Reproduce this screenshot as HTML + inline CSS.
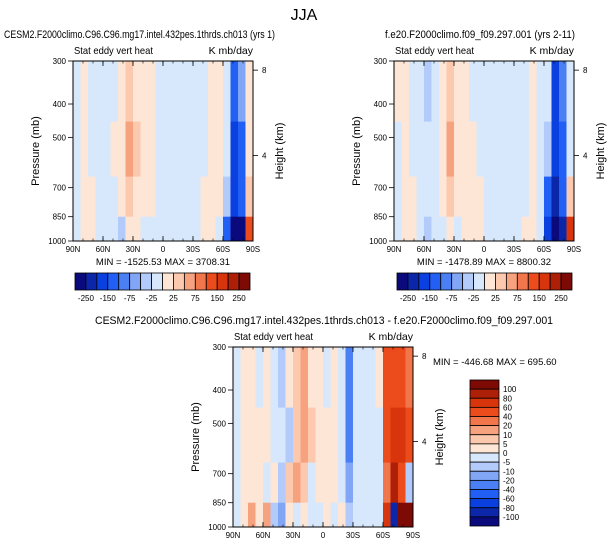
<!DOCTYPE html>
<html><head><meta charset="utf-8">
<style>
html,body{margin:0;padding:0;background:#fff;}
svg{display:block;font-family:"Liberation Sans",Arial,sans-serif;}
</style></head>
<body>
<svg id="fig" width="608" height="547" viewBox="0 0 608 547" xmlns="http://www.w3.org/2000/svg">
<text x="304" y="20" font-size="16" text-anchor="middle">JJA</text>
</svg>
<script>
// ---- data ----
const latLabels = ["90N","60N","30N","0","30S","60S","90S"];
const pressureTicks = [300,400,500,700,850,1000];
const heightTicks = [8,4];
const pressureEdges = [300,450,650,850,1000];
const topLevels = [-250,-200,-150,-100,-75,-50,-25,0,25,50,75,100,150,200,250];
const topLevelLabels = ["-250","-150","-75","-25","25","75","150","250"];
const diffLevels = [-100,-80,-60,-40,-20,-10,-5,0,5,10,20,40,60,80,100];
const colors = ["#0a0a7d","#0b26a8","#0a3fe0","#2260f5","#4b80f5","#82a6f6","#b3cbfa","#d7e8fd","#fde6d6","#fcc9ae","#f7a27e","#f2764b","#ec4c1c","#d9350c","#ad1f06","#7d0a05"];
const modelA = [
[-10,-10,-10,-10],[10,10,10,10],[-10,-10,10,10],[-10,-10,-10,-10],[-10,-10,-10,-10],[-10,10,-10,-10],
[10,10,10,-40],[40,60,40,10],[10,40,10,10],[10,10,10,-10],[10,10,10,-10],[-10,-10,-10,-10],
[-10,-10,-10,-10],[-10,-10,-10,-10],[-10,-10,-10,-10],[-10,-10,-10,-10],[-10,-10,-10,-10],[-10,-10,10,10],
[10,10,10,10],[10,10,10,-10],[-10,-10,-40,-110],[-110,-160,-200,-260],[-60,-110,-150,-260],[10,10,40,110]];
const modelB = [
[10,-10,-10,-10],[10,10,10,10],[-10,-10,10,10],[-10,-10,-10,-10],[-40,-10,-10,-40],[-10,-10,-10,-10],
[10,10,10,-10],[40,60,40,10],[10,10,10,-10],[10,10,10,10],[-10,10,10,10],[-10,-10,10,10],
[-10,-10,-10,-10],[-10,-10,-10,-10],[-10,-10,-10,-10],[-10,-10,-10,-10],[-10,-10,-10,-10],[-10,-10,-10,10],
[10,10,10,10],[-10,-10,-10,-10],[-10,-40,-110,-200],[-160,-200,-210,-260],[-80,-110,-150,-220],[-10,-10,40,160]];
const diffAB = [
[-3,-3,-3,-3],[3,3,3,3],[3,3,3,15],[-3,3,3,3],[3,3,-3,15],[-3,-3,3,-7],
[-7,-3,-7,-15],[3,-7,7,3],[7,7,15,-3],[15,15,7,3],[3,7,-3,-3],[3,3,3,-3],
[-3,3,3,3],[3,3,3,-3],[-3,-3,-3,3],[-25,-25,-15,-7],[-3,-3,-3,-3],[-3,-3,-3,-3],
[-3,-3,-3,-3],[3,-3,-3,-3],[45,45,30,70],[50,70,90,-90],[50,70,40,110],[30,50,-10,110]];

const svg=document.getElementById('fig');
const NS="http://www.w3.org/2000/svg";
function mk(tag,attrs,txt){const e=document.createElementNS(NS,tag);for(const k in attrs)e.setAttribute(k,attrs[k]);if(txt!==undefined)e.textContent=txt;svg.appendChild(e);return e;}
function colorFor(v,lev){let i=0;while(i<lev.length&&v>=lev[i])i++;return colors[i];}

function panel(o){
  const x0=o.x,y0=o.y,W=180,H=180;
  const ys=p=>y0+Math.log(p/300)/Math.log(1000/300)*H;
  const n=o.data.length;
  o.data.forEach((col,i)=>{
    col.forEach((v,j)=>{
      const r=mk('rect',{x:(x0+i*W/n).toFixed(2),y:ys(pressureEdges[j]).toFixed(2),width:(W/n+0.4).toFixed(2),height:(ys(pressureEdges[j+1])-ys(pressureEdges[j])+0.4).toFixed(2),fill:colorFor(v,o.levels)});
      
      
    });
  });
  const fr=mk('rect',{x:x0,y:y0,width:W,height:H,fill:'none',stroke:'#000','stroke-width':1});
  
  
  const t=mk('text',{x:o.tx,y:o.ty,'font-size':11,textLength:o.tl,lengthAdjust:'spacingAndGlyphs'},o.title);
  
  const s1=mk('text',{x:x0+1,y:y0-7,'font-size':10.5,textLength:79,lengthAdjust:'spacingAndGlyphs'},'Stat eddy vert heat');
  
  const s2=mk('text',{x:x0+W,y:y0-7,'font-size':10.5,'text-anchor':'end'},'K mb/day');
  
  latLabels.forEach((l,i)=>{
    const x=x0+i*W/6;
    mk('line',{x1:x,x2:x,y1:y0+H,y2:y0+H-5,stroke:'#000','stroke-width':0.8});
    mk('line',{x1:x,x2:x,y1:y0,y2:y0+5,stroke:'#000','stroke-width':0.8});
    const tl=mk('text',{x:x,y:y0+H+11,'font-size':8,'text-anchor':'middle'},l);
    
  });
  for(let i=0;i<18;i++){const x=x0+i*W/18;mk('line',{x1:x,x2:x,y1:y0+H,y2:y0+H-2.5,stroke:'#000','stroke-width':0.6});mk('line',{x1:x,x2:x,y1:y0,y2:y0+2.5,stroke:'#000','stroke-width':0.6});}
  pressureTicks.forEach(p=>{
    const y=ys(p);
    mk('line',{x1:x0,x2:x0-5,y1:y,y2:y,stroke:'#000','stroke-width':0.8});
    const tl=mk('text',{x:x0-7,y:y+3,'font-size':8,'text-anchor':'end'},String(p));
    
  });
  heightTicks.forEach(h=>{
    const p=1000*Math.exp(-h/7);const y=ys(p);
    mk('line',{x1:x0+W,x2:x0+W+5,y1:y,y2:y,stroke:'#000','stroke-width':0.8});
    const tl=mk('text',{x:x0+W+9,y:y+3,'font-size':8},String(h));
    
  });
  const yl=mk('text',{x:0,y:0,'font-size':11,'text-anchor':'middle',transform:`translate(${x0-34},${y0+H/2}) rotate(-90)`},'Pressure (mb)');
  
  const hl=mk('text',{x:0,y:0,'font-size':11,'text-anchor':'middle',transform:`translate(${x0+W+30},${y0+H/2}) rotate(-90)`},'Height (km)');
  
  const mm=mk('text',{x:o.mmx,y:o.mmy,'font-size':9.5,'text-anchor':o.mma},o.minmax);
  
}

function hbar(x0,y0,name){
  const w=175/16;
  colors.forEach((c,i)=>{const r=mk('rect',{x:x0+i*w,y:y0,width:w,height:17,fill:c,stroke:'#000','stroke-width':0.8});
    });
  topLevelLabels.forEach((l,k)=>{const t=mk('text',{x:x0+(1+2*k)*w,y:y0+28,'font-size':8,'text-anchor':'middle'},l);
    });
}

panel({name:'left-panel',x:73,y:61,data:modelA,levels:topLevels,title:'CESM2.F2000climo.C96.C96.mg17.intel.432pes.1thrds.ch013 (yrs 1)',tx:4,ty:38,tl:271,minmax:'MIN = -1525.53  MAX = 3708.31',mmx:163,mmy:265,mma:'middle'});
panel({name:'right-panel',x:394,y:61,data:modelB,levels:topLevels,title:'f.e20.F2000climo.f09_f09.297.001 (yrs 2-11)',tx:385,ty:38,tl:190,minmax:'MIN = -1478.89  MAX = 8800.32',mmx:484,mmy:265,mma:'middle'});
panel({name:'diff-panel',x:233,y:347,data:diffAB,levels:diffLevels,title:'CESM2.F2000climo.C96.C96.mg17.intel.432pes.1thrds.ch013 - f.e20.F2000climo.f09_f09.297.001',tx:95,ty:324,tl:458,minmax:'MIN = -446.68  MAX = 695.60',mmx:433,mmy:365,mma:'start'});
hbar(75,273,'left-colorbar');
hbar(397,273,'right-colorbar');
(function(){
  const x0=470,y0=380,h=146/16;
  for(let i=0;i<16;i++){
    const r=mk('rect',{x:x0,y:y0+i*h,width:29,height:h,fill:colors[15-i],stroke:'#000','stroke-width':0.8});
    
  }
  for(let k=0;k<15;k++){
    const t=mk('text',{x:x0+33,y:y0+(k+1)*h+3,'font-size':8},String(diffLevels[14-k]));
    
  }
})();
</script>
</body></html>
